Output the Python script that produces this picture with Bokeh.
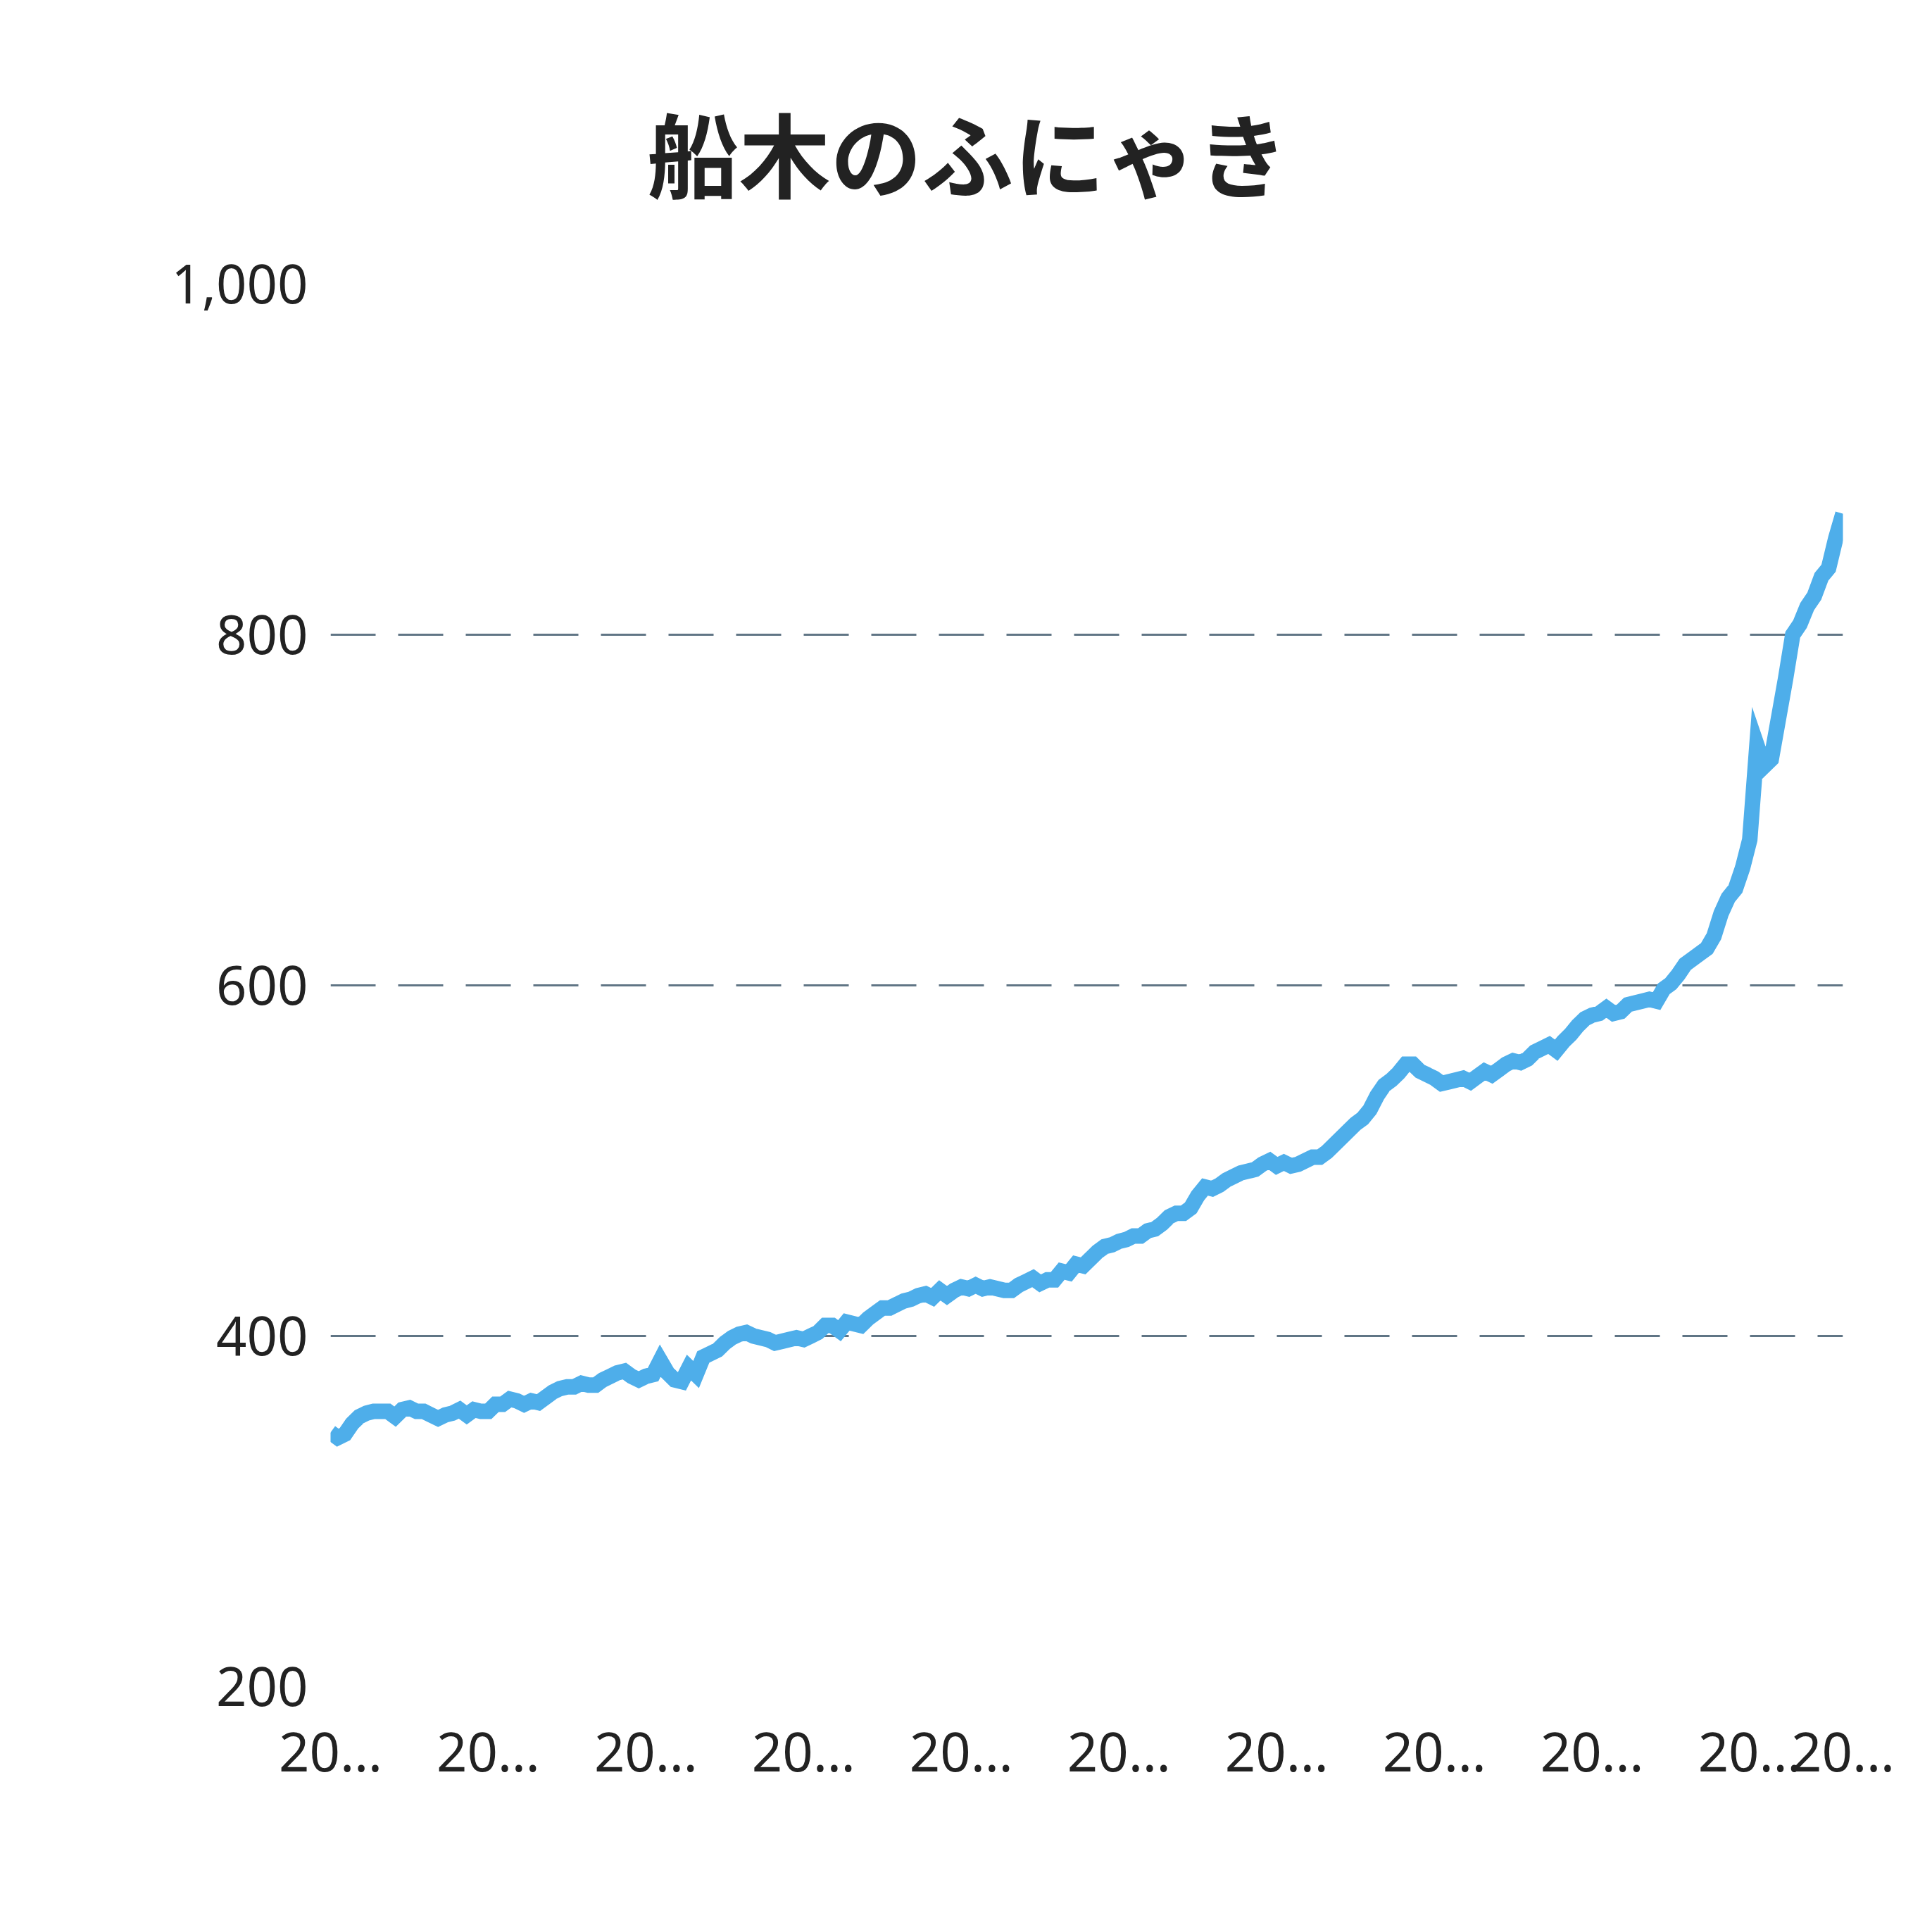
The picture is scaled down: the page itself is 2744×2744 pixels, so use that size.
from bokeh.plotting import figure
from bokeh.models import Range1d, FixedTicker, NumeralTickFormatter, Title, ColumnDataSource
from bokeh.embed import file_html
from bokeh.resources import INLINE

title_text = "船木のふにゃき"

values = [
    345, 342, 344, 350, 354, 356, 357, 357, 357, 354,
    358, 359, 357, 357, 355, 353, 355, 356, 358, 355,
    358, 357, 357, 361, 361, 364, 363, 361, 363, 362,
    365, 368, 370, 371, 371, 373, 372, 372, 375, 377,
    379, 380, 377, 375, 377, 378, 386, 379, 375, 374,
    382, 378, 388, 390, 392, 396, 399, 401, 402, 400,
    399, 398, 396, 397, 398, 399, 398, 400, 402, 406,
    406, 403, 408, 407, 406, 410, 413, 416, 416, 418,
    420, 421, 423, 424, 422, 426, 423, 426, 428, 427,
    429, 427, 428, 427, 426, 426, 429, 431, 433, 430,
    432, 432, 437, 436, 441, 440, 444, 448, 451, 452,
    454, 455, 457, 457, 460, 461, 464, 468, 470, 470,
    473, 480, 485, 484, 486, 489, 491, 493, 494, 495,
    498, 500, 497, 499, 497, 498, 500, 502, 502, 505,
    509, 513, 517, 521, 524, 529, 537, 543, 546, 550,
    555, 555, 551, 549, 547, 544, 545, 546, 547, 545,
    548, 551, 549, 552, 555, 557, 556, 558, 562, 564,
    566, 563, 568, 572, 577, 581, 583, 584, 587, 584,
    585, 589, 590, 591, 592, 591, 598, 601, 606, 612,
    615, 618, 621, 628, 641, 650, 655, 667, 683, 737,
    725, 729, 752, 775, 800, 806, 816, 822, 833, 838,
    855, 869,
]

x_tick_idx = [0, 22, 44, 66, 88, 110, 132, 154, 176, 198, 211]
x_tick_labels = ["20…"] * len(x_tick_idx)
y_ticks = [200, 400, 600, 800, 1000]
grid_ticks = [400, 600, 800]

source = ColumnDataSource(data=dict(x=list(range(len(values))), y=values))

p = figure(
    width=2728, height=2728,
    output_backend="svg", toolbar_location=None,
    x_range=Range1d(0, len(values) - 1), y_range=Range1d(200, 1000),
    min_border_left=469, min_border_right=111,
    min_border_top=403, min_border_bottom=333,
    background_fill_color="white", border_fill_color="white",
)
p.outline_line_color = None

p.title = Title(
    text=title_text, align="left", offset=450,
    text_font="Noto Sans CJK JP", text_font_size="130px",
    text_font_style="bold", text_color="#222222", standoff=192,
)

p.line("x", "y", source=source, line_color="#4eaeea", line_width=22, line_join="miter")

# x axis
p.xaxis.ticker = FixedTicker(ticks=x_tick_idx)
p.xaxis.major_label_overrides = {t: lab for t, lab in zip(x_tick_idx, x_tick_labels)}
# y axis
p.yaxis.ticker = FixedTicker(ticks=y_ticks)
p.yaxis.formatter = NumeralTickFormatter(format="0,0")

for ax in (p.xaxis[0], p.yaxis[0]):
    ax.axis_line_color = None
    ax.major_tick_line_color = None
    ax.minor_tick_line_color = None
    ax.major_tick_out = 0
    ax.major_tick_in = 0
    ax.minor_tick_out = 0
    ax.major_label_text_font = "Noto Sans"
    ax.major_label_text_font_size = "76px"
    ax.major_label_text_color = "#222222"
p.yaxis.major_label_standoff = 32
p.xaxis.major_label_standoff = 39

p.xgrid.visible = False
p.ygrid.ticker = FixedTicker(ticks=grid_ticks)
p.ygrid.grid_line_color = "#607585"
p.ygrid.grid_line_width = 3
p.ygrid.grid_line_dash = "64 32"

open("out.html", "w").write(file_html(p, INLINE))
